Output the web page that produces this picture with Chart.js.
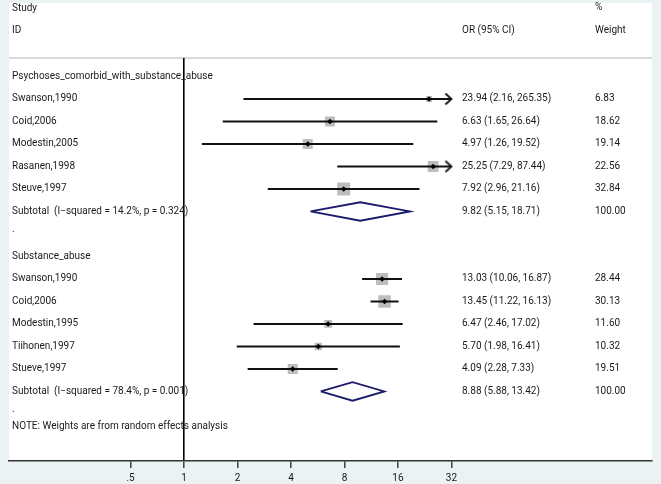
<!DOCTYPE html>
<html>
<head>
<meta charset="utf-8">
<script src="https://cdn.jsdelivr.net/npm/chart.js@4.4.1/dist/chart.umd.min.js"></script>
<style>
html, body { margin: 0; padding: 0; background: #eaf2f3; }
canvas { display: block; }
</style>
</head>
<body>
<canvas id="forestChart" width="661" height="484"></canvas>
<script>
// subgroups
const groupNames = ["Psychoses_comorbid_with_substance_abuse", "Substance_abuse"];
const groupI2 = ["14.2%", "78.4%"];
const groupP = ["0.324", "0.001"];
const subtotalOR = [9.82, 8.88];
const subtotalLower = [5.15, 5.88];
const subtotalUpper = [18.71, 13.42];

// studies
const studyNames = ["Swanson,1990", "Coid,2006", "Modestin,2005", "Rasanen,1998", "Steuve,1997",
                    "Swanson,1990", "Coid,2006", "Modestin,1995", "Tiihonen,1997", "Stueve,1997"];
const studyGroup = [0, 0, 0, 0, 0, 1, 1, 1, 1, 1];
const oddsRatios = [23.94, 6.63, 4.97, 25.25, 7.92, 13.03, 13.45, 6.47, 5.70, 4.09];
const lowerCI = [2.16, 1.65, 1.26, 7.29, 2.96, 10.06, 11.22, 2.46, 1.98, 2.28];
const upperCI = [265.35, 26.64, 19.52, 87.44, 21.16, 16.87, 16.13, 17.02, 16.41, 7.33];
const weights = [6.83, 18.62, 19.14, 22.56, 32.84, 28.44, 30.13, 11.60, 10.32, 19.51];

// x axis
const tickValues = [0.5, 1, 2, 4, 8, 16, 32];
const tickLabels = [".5", "1", "2", "4", "8", "16", "32"];
const noteText = "NOTE: Weights are from random effects analysis";

const FONT = "10px Roboto";
const TEXT = "#1a1a1a";
const clipMax = tickValues[tickValues.length - 1]; // CIs beyond this get an arrow

// row numbers: group header, studies, subtotal, "."
const groupRow = groupNames.map((g, i) => i * 8);
const subtotalRow = groupRow.map(r => r + 6);
const dotRow = groupRow.map(r => r + 7);
const counts = [0, 0];
const studyRow = studyGroup.map(g => groupRow[g] + 1 + counts[g]++);

// arrow head image used as a point style
const arrowImg = document.createElement("canvas");
arrowImg.width = 16;
arrowImg.height = 14;
(function () {
    const c = arrowImg.getContext("2d");
    c.strokeStyle = "#111";
    c.lineWidth = 1.8;
    c.beginPath();
    c.moveTo(2, 1.5);
    c.lineTo(8, 7);
    c.lineTo(2, 12.5);
    c.stroke();
})();

const datasets = [];

// CI lines
studyNames.forEach((name, i) => {
    datasets.push({
        data: [{ x: lowerCI[i], y: studyRow[i] }, { x: Math.min(upperCI[i], clipMax), y: studyRow[i] }],
        showLine: true,
        borderColor: "#111",
        borderWidth: 2,
        pointRadius: 0,
        order: 2
    });
});

// weight boxes
datasets.push({
    data: oddsRatios.map((v, i) => ({ x: v, y: studyRow[i] })),
    pointStyle: "rect",
    pointRadius: weights.map(w => 2.27 * Math.sqrt(w) / Math.SQRT2),
    backgroundColor: "#bdbdbd",
    borderWidth: 0,
    order: 3
});

// point estimates
datasets.push({
    data: oddsRatios.map((v, i) => ({ x: v, y: studyRow[i] })),
    pointStyle: "rectRot",
    pointRadius: 2.8,
    backgroundColor: "#000",
    borderWidth: 0,
    order: 1
});

// arrows for clipped upper limits
datasets.push({
    data: upperCI.map((u, i) => u > clipMax ? { x: clipMax, y: studyRow[i] } : null).filter(Boolean),
    pointStyle: arrowImg,
    order: 1
});

// subtotal diamonds
subtotalOR.forEach((v, g) => {
    const r = subtotalRow[g];
    datasets.push({
        data: [
            { x: subtotalLower[g], y: r },
            { x: v, y: r - 0.41 },
            { x: subtotalUpper[g], y: r },
            { x: v, y: r + 0.41 },
            { x: subtotalLower[g], y: r }
        ],
        showLine: true,
        borderColor: "#1b1b6b",
        borderWidth: 1.8,
        pointRadius: 0,
        order: 1
    });
});

const fmt = v => v.toFixed(2);

const textPlugin = {
    id: "forestText",
    beforeDraw(chart) {
        const ctx = chart.ctx;
        const a = chart.chartArea;
        ctx.save();
        ctx.fillStyle = "#eaf2f3";
        ctx.fillRect(0, 0, chart.width, chart.height);
        ctx.fillStyle = "#fff";
        ctx.fillRect(a.left, 3, a.right - a.left, a.bottom - 3);
        ctx.strokeStyle = "#d9d9d9";
        ctx.lineWidth = 2;
        ctx.beginPath();
        ctx.moveTo(a.left, a.top);
        ctx.lineTo(a.right, a.top);
        ctx.stroke();
        ctx.restore();
    },
    afterDraw(chart) {
        const ctx = chart.ctx;
        const y = chart.scales.y;
        const colL = 12, colOR = 462, colW = 595;
        const put = (txt, x, row) => ctx.fillText(txt, x, y.getPixelForValue(row));
        ctx.save();
        ctx.font = FONT;
        ctx.fillStyle = TEXT;
        ctx.textBaseline = "middle";
        ctx.textAlign = "left";

        put("Study", colL, -3.02);
        put("ID", colL, -2.05);
        put("OR (95% CI)", colOR, -2.05);
        put("%", colW, -3.06);
        put("Weight", colW, -2.05);

        groupNames.forEach((g, i) => {
            put(g, colL, groupRow[i]);
            put("Subtotal  (I\u2212squared = " + groupI2[i] + ", p = " + groupP[i] + ")", colL, subtotalRow[i]);
            put(fmt(subtotalOR[i]) + " (" + fmt(subtotalLower[i]) + ", " + fmt(subtotalUpper[i]) + ")", colOR, subtotalRow[i]);
            put("100.00", colW, subtotalRow[i]);
            put(".", colL, dotRow[i] - 0.2);
        });
        studyNames.forEach((s, i) => {
            put(s, colL, studyRow[i]);
            put(fmt(oddsRatios[i]) + " (" + fmt(lowerCI[i]) + ", " + fmt(upperCI[i]) + ")", colOR, studyRow[i]);
            put(fmt(weights[i]), colW, studyRow[i]);
        });
        put(noteText, colL, dotRow[1] + 0.57);
        ctx.restore();
    }
};

new Chart(document.getElementById("forestChart").getContext("2d"), {
    type: "scatter",
    data: { datasets: datasets },
    options: {
        responsive: false,
        animation: false,
        layout: { padding: { left: 3, right: 3, top: 58, bottom: 0 } },
        plugins: { legend: { display: false }, tooltip: { enabled: false } },
        scales: {
            x: {
                type: "logarithmic",
                min: 0.1036,
                max: 430,
                afterBuildTicks: scale => { scale.ticks = tickValues.map(v => ({ value: v })); },
                afterFit: scale => { scale.height = 23; },
                ticks: {
                    autoSkip: false,
                    maxRotation: 0,
                    padding: 4,
                    color: TEXT,
                    font: { family: "Roboto", size: 10 },
                    callback: v => tickLabels[tickValues.indexOf(v)]
                },
                grid: {
                    color: c => (c.tick && c.tick.value === 1) ? "#000" : "rgba(0,0,0,0)",
                    lineWidth: 1.6,
                    tickColor: "#333",
                    tickLength: 7,
                    tickWidth: 1.4
                },
                border: { display: true, color: "#333", width: 1.5 }
            },
            y: {
                type: "linear",
                reverse: true,
                min: -0.822,
                max: 17.09,
                display: false
            }
        }
    },
    plugins: [textPlugin]
});
</script>
</body>
</html>
